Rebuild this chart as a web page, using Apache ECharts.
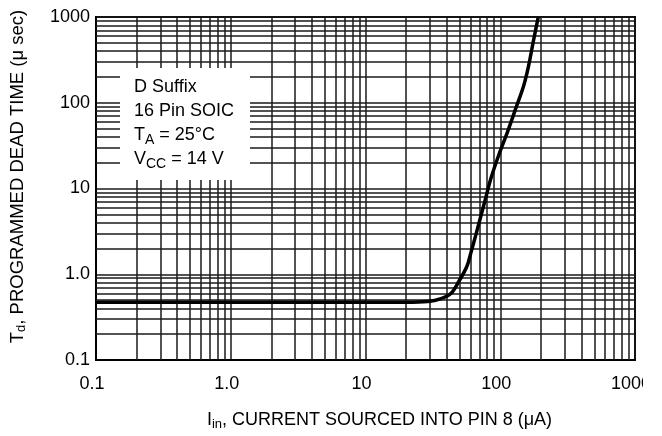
<!DOCTYPE html>
<html>
<head>
<meta charset="utf-8">
<script src="https://cdn.jsdelivr.net/npm/echarts@6/dist/echarts.min.js"></script>
<style>
  html, body { margin: 0; padding: 0; background: #fff; }
  #chart { width: 662px; height: 436px; }
</style>
</head>
<body>
<div id="chart"></div>
<script>
// Curve: input current (µA) vs programmed dead time (µs)
const currentUA = [0.1, 1, 10, 20, 29, 36.4, 43.2, 49.4, 56.6, 60.6, 65.9, 71.8, 78.2, 85.1, 97.5, 113.6, 130, 149, 162, 177, 191];
const deadTimeUS = [0.47, 0.47, 0.47, 0.47, 0.48, 0.52, 0.6, 0.83, 1.24, 1.79, 2.88, 4.77, 7.88, 13, 24.6, 46.4, 85, 157, 266, 544, 980];

// Log grid: decades and the minor multipliers within each decade
const decades = [0.1, 1, 10, 100];
const minorMultipliers = [2, 3, 4, 5, 6, 7, 8, 9];
const xTickLabels = ['0.1', '1.0', '10', '100', '1000'];
const yTickLabels = ['0.1', '1.0', '10', '100', '1000'];

const minorValues = [];
decades.forEach(d => minorMultipliers.forEach(m => minorValues.push(+(d * m).toPrecision(3))));

const FONT = '"Liberation Sans", Arial, Helvetica, sans-serif';
const gridColor = '#1a1a1a';

function labelFor(v, labels) {
  const idx = Math.round(Math.log10(v)) + 1;
  return labels[idx] !== undefined ? labels[idx] : '';
}

const chart = echarts.init(document.getElementById('chart'), null, { renderer: 'canvas' });

const option = {
  animation: false,
  backgroundColor: '#ffffff',
  grid: { left: 93, right: 27, top: 17, bottom: 71, show: true, borderColor: '#000', borderWidth: 2, backgroundColor: 'transparent' },
  xAxis: {
    type: 'log', logBase: 10, min: 0.1, max: 1000,
    name: '{m|I}{s|in}{m|, CURRENT SOURCED INTO PIN 8 (μA)}',
    nameLocation: 'middle', nameGap: 50,
    nameTextStyle: {
      padding: [0, 0, 0, 28],
      rich: {
        m: { fontFamily: FONT, fontSize: 18, color: '#000' },
        s: { fontFamily: FONT, fontSize: 13, color: '#000', verticalAlign: 'bottom', padding: [8, 0, 0, 0] }
      }
    },
    axisLine: { show: true, lineStyle: { color: '#000', width: 2 } },
    axisTick: { show: false },
    splitLine: { show: true, lineStyle: { color: gridColor, width: 1.5 } },
    axisLabel: {
      fontFamily: FONT, fontSize: 18, color: '#000', margin: 15, padding: [0, 8, 0, 0],
      formatter: v => labelFor(v, xTickLabels)
    }
  },
  yAxis: {
    type: 'log', logBase: 10, min: 0.1, max: 1000,
    name: '{m|T}{s|d}{m|, PROGRAMMED DEAD TIME (μ sec)}',
    nameLocation: 'middle', nameGap: 68, nameRotate: 90,
    nameTextStyle: {
      padding: [0, 0, 0, 24],
      rich: {
        m: { fontFamily: FONT, fontSize: 18.5, color: '#000' },
        s: { fontFamily: FONT, fontSize: 13, color: '#000', verticalAlign: 'bottom', padding: [8, 0, 0, 0] }
      }
    },
    axisLine: { show: true, lineStyle: { color: '#000', width: 2 } },
    axisTick: { show: false },
    splitLine: { show: true, lineStyle: { color: gridColor, width: 1.5 } },
    axisLabel: {
      fontFamily: FONT, fontSize: 18, color: '#000', margin: 6,
      formatter: v => labelFor(v, yTickLabels)
    }
  },
  series: [
    {
      type: 'line',
      data: currentUA.map((x, i) => [x, deadTimeUS[i]]),
      smooth: 0.35,
      showSymbol: false,
      lineStyle: { color: '#000', width: 3.5 },
      z: 5,
      markLine: {
        silent: true,
        symbol: 'none',
        label: { show: false },
        lineStyle: { color: gridColor, width: 1.5, type: 'solid' },
        data: minorValues.map(v => ({ xAxis: v })).concat(minorValues.map(v => ({ yAxis: v }))),
        z: 1
      }
    }
  ],
  graphic: [
    {
      type: 'rect', shape: { x: 120, y: 68, width: 130, height: 112 },
      style: { fill: '#ffffff' }, z: 10
    },
    {
      type: 'text', left: 134, top: 78, z: 11,
      style: {
        text: '{m|D Suffix}\n{m|16 Pin SOIC}\n{m|T}{s|A}{m| = 25°C}\n{m|V}{s|CC}{m| = 14 V}',
        rich: {
          m: { fontFamily: FONT, fontSize: 18, fill: '#000', lineHeight: 24 },
          s: { fontFamily: FONT, fontSize: 14, fill: '#000', lineHeight: 24, padding: [10, 0, 0, 0] }
        }
      }
    },
    {
      // the reference picture is cropped just after "100" of the last x label
      type: 'rect', shape: { x: 643, y: 368, width: 19, height: 30 },
      style: { fill: '#ffffff' }, z: 20
    }
  ]
};

chart.setOption(option);
</script>
</body>
</html>
